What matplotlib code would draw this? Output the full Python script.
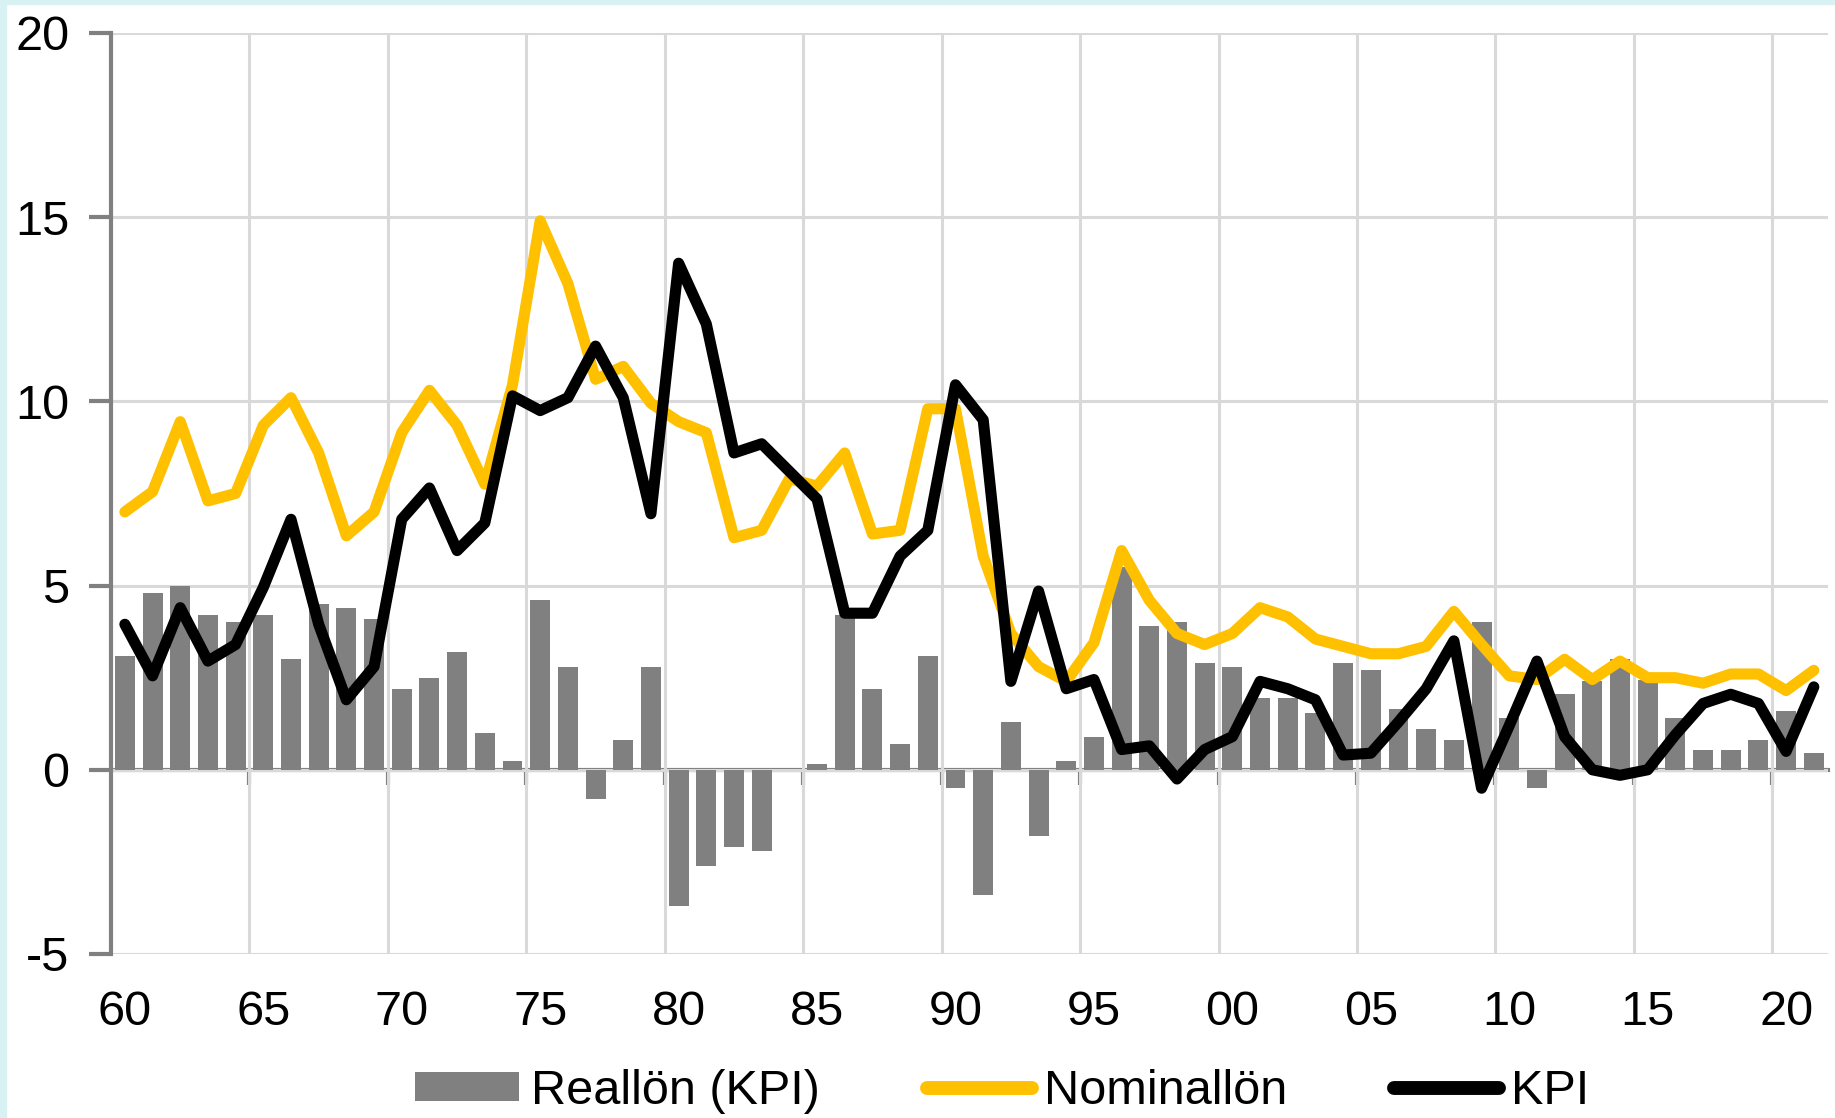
import numpy as np
import matplotlib
matplotlib.use("Agg")
import matplotlib.pyplot as plt
from matplotlib.patches import Rectangle

plt.rcParams['font.family'] = ['Liberation Sans', 'DejaVu Sans']
plt.rcParams['axes.unicode_minus'] = False

years = np.arange(1960, 2022)

# Reallön (KPI), årlig förändring i procent
reallon = [3.1, 4.8, 5.0, 4.2, 4.0, 4.2, 3.0, 4.5, 4.4, 4.1,
           2.2, 2.5, 3.2, 1.0, 0.25, 4.6, 2.8, -0.8, 0.8, 2.8,
           -3.7, -2.6, -2.1, -2.2, 0.0, 0.15, 4.2, 2.2, 0.7, 3.1,
           -0.5, -3.4, 1.3, -1.8, 0.25, 0.9, 5.5, 3.9, 4.0, 2.9,
           2.8, 1.95, 1.95, 1.55, 2.9, 2.7, 1.65, 1.1, 0.8, 4.0,
           1.4, -0.5, 2.05, 2.4, 3.0, 2.45, 1.4, 0.55, 0.55, 0.8,
           1.6, 0.45]

# Nominallön
nominallon = [7.0, 7.55, 9.45, 7.3, 7.5, 9.35, 10.1, 8.6, 6.35, 7.0,
              9.15, 10.3, 9.35, 7.75, 10.45, 14.9, 13.2, 10.6, 10.95, 9.95,
              9.45, 9.15, 6.3, 6.5, 7.9, 7.7, 8.6, 6.4, 6.5, 9.8,
              9.8, 5.8, 3.7, 2.8, 2.4, 3.45, 5.95, 4.6, 3.7, 3.4,
              3.7, 4.4, 4.15, 3.55, 3.35, 3.15, 3.15, 3.35, 4.3, 3.4,
              2.55, 2.45, 3.0, 2.45, 2.95, 2.5, 2.5, 2.35, 2.6, 2.6,
              2.15, 2.7]

# KPI
kpi = [3.95, 2.55, 4.4, 2.95, 3.4, 4.95, 6.8, 3.95, 1.9, 2.8,
       6.8, 7.65, 5.95, 6.7, 10.15, 9.75, 10.1, 11.5, 10.1, 6.95,
       13.75, 12.1, 8.6, 8.85, 8.1, 7.35, 4.25, 4.25, 5.8, 6.5,
       10.45, 9.5, 2.4, 4.85, 2.2, 2.45, 0.55, 0.65, -0.25, 0.55,
       0.9, 2.4, 2.2, 1.9, 0.4, 0.45, 1.3, 2.2, 3.5, -0.5,
       1.2, 2.95, 0.9, 0.0, -0.15, 0.0, 0.95, 1.8, 2.05, 1.8,
       0.5, 2.25]

tick_years = np.arange(1960, 2022, 5)
tick_labels = [f"{y % 100:02d}" for y in tick_years]

gray = "#808080"
grid_color = "#d9d9d9"
yellow = "#ffc000"

fig = plt.figure(figsize=(18.35, 11.18), dpi=100)
fig.patch.set_facecolor("white")
# light cyan frame strip at top and left
fig.patches.append(Rectangle((0, 0), 0.0035, 1, transform=fig.transFigure,
                             color="#d8f1f2", zorder=0))
fig.patches.append(Rectangle((0, 0.9963), 1, 0.0037, transform=fig.transFigure,
                             color="#d8f1f2", zorder=0))

ax = fig.add_axes([0.0605, 0.1467, 0.9355, 0.8238])

bars = ax.bar(years, reallon, width=0.72, color=gray, zorder=2, label="Reallön (KPI)")
l_nom, = ax.plot(years, nominallon, color=yellow, lw=8, solid_joinstyle="round",
                 solid_capstyle="round", zorder=3, label="Nominallön")
l_kpi, = ax.plot(years, kpi, color="black", lw=8, solid_joinstyle="round",
                 solid_capstyle="round", zorder=4, label="KPI")

ax.set_xlim(1959.5, 2021.5)
ax.set_ylim(-5, 20)

# y axis
ax.set_yticks(np.arange(-5, 21, 5))
ax.tick_params(axis="y", direction="out", length=16, width=3, color=gray,
               labelsize=35, pad=14)
ax.yaxis.grid(True, color=grid_color, lw=2.2, zorder=0)

# x axis labels at category centres, grid at category boundaries
ax.set_xticks(tick_years)
ax.set_xticklabels(tick_labels)
ax.tick_params(axis="x", length=0, labelsize=35, pad=26)
ax.set_xticks(np.arange(1964.5, 2021, 5), minor=True)
ax.tick_params(axis="x", which="minor", length=0)
ax.xaxis.grid(True, which="minor", color=grid_color, lw=2.2, zorder=0)
ax.set_axisbelow(True)

for s in ["top", "right", "bottom"]:
    ax.spines[s].set_visible(False)
ax.spines["left"].set_color(gray)
ax.spines["left"].set_linewidth(3)

# zero line with small tick marks
zero_ax = ax.secondary_xaxis(0.2)
zero_ax.set_xticks(np.arange(1964.5, 2021, 5))
zero_ax.set_xticklabels([])
zero_ax.tick_params(direction="out", length=11, width=3, color=gray)
zero_ax.spines["bottom"].set_color(gray)
zero_ax.spines["bottom"].set_linewidth(3)

leg = fig.legend([bars, l_nom, l_kpi], ["Reallön (KPI)", "Nominallön", "KPI"],
                 loc="center", bbox_to_anchor=(0.546, 0.024), ncol=3,
                 frameon=False, fontsize=35, handlelength=2.15,
                 handleheight=0.55, handletextpad=0.25, columnspacing=2.2,
                 borderaxespad=0)
for h in leg.get_lines():
    h.set_linewidth(10)
    h.set_solid_capstyle("round")

fig.savefig("out.png", dpi=100)
